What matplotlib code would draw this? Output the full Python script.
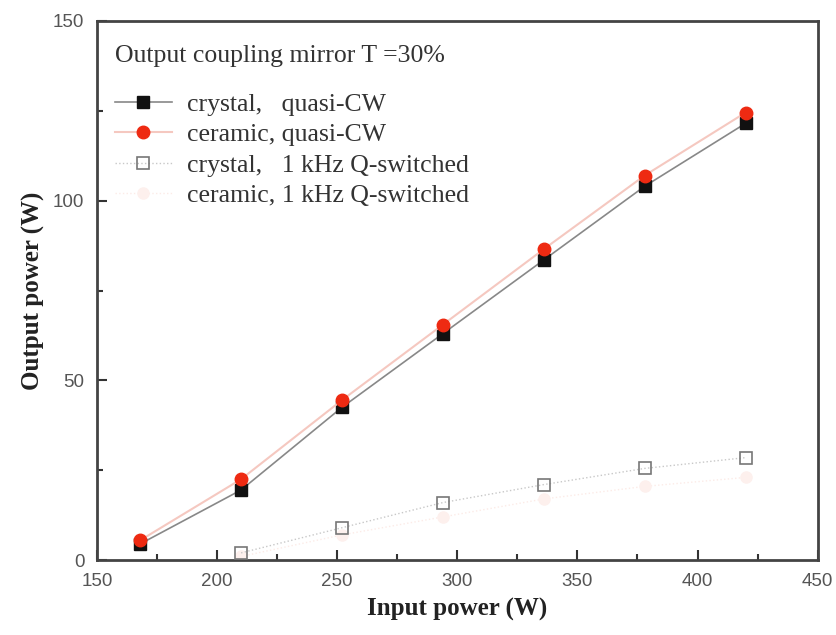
import numpy as np
import matplotlib.pyplot as plt
from matplotlib.ticker import MultipleLocator

#------------- Data --------------------------------------#
input_power = [168, 210, 252, 294, 336, 378, 420]
crystal_cw = [4.5, 19.5, 42.5, 63, 83.5, 104, 121.5]
ceramic_cw = [5.5, 22.5, 44.5, 65.5, 86.5, 107, 124.5]
crystal_qs_x = [210, 252, 294, 336, 378, 420]
crystal_qs = [2, 9, 16, 21, 25.5, 28.5]
ceramic_qs_x = [210, 252, 294, 336, 378, 420]
ceramic_qs = [1, 7, 12, 17, 20.5, 23]

serif = 'Liberation Serif'
sans = 'Liberation Sans'

#------------- Plot -----------------#
fig = plt.figure(figsize=(8.36, 6.35), dpi=100)
ax = fig.add_axes([0.116, 0.118, 0.862, 0.849])

l1, = ax.plot(input_power, crystal_cw, color='#888888', lw=1.2, marker='s', ms=8,
              mfc='#111111', mec='#111111', label='crystal,   quasi-CW', zorder=3)
l2, = ax.plot(input_power, ceramic_cw, color='#f5c8c0', lw=1.5, marker='o', ms=9,
              mfc='#ee2a12', mec='#ee2a12', label='ceramic, quasi-CW', zorder=4)
l3, = ax.plot(crystal_qs_x, crystal_qs, color='#c8c8c8', lw=1, ls=':', marker='s', ms=9,
              mfc='none', mec='#777777', mew=1.2, label='crystal,   1 kHz Q-switched', zorder=3)
l4, = ax.plot(ceramic_qs_x, ceramic_qs, color='#fcebe7', lw=1, ls=':', marker='o', ms=8,
              mfc='#fdf0ed', mec='#fdf0ed', label='ceramic, 1 kHz Q-switched', zorder=2)

ax.set_xlim(150, 450)
ax.set_ylim(0, 150)
ax.xaxis.set_major_locator(MultipleLocator(50))
ax.xaxis.set_minor_locator(MultipleLocator(25))
ax.yaxis.set_major_locator(MultipleLocator(50))
ax.yaxis.set_minor_locator(MultipleLocator(25))
ax.tick_params(which='both', direction='in', width=1.5, colors='#333333',
               labelcolor='#555555', labelsize=13.5)
ax.tick_params(which='major', length=7)
ax.tick_params(axis='x', which='major', pad=9)
ax.tick_params(axis='y', which='major', pad=9)
ax.tick_params(which='minor', length=4)
for lab in ax.get_xticklabels() + ax.get_yticklabels():
    lab.set_fontfamily(sans)
for sp in ax.spines.values():
    sp.set_linewidth(2)
    sp.set_color('#444444')

ax.set_xlabel('Input power (W)', fontfamily=serif, fontweight='bold', fontsize=18,
              color='#222222', labelpad=6)
ax.set_ylabel('Output power (W)', fontfamily=serif, fontweight='bold', fontsize=18,
              color='#222222', labelpad=6)

# legend heading drawn on its own so the gap to the entries can match
ax.text(0.025, 0.935, 'Output coupling mirror T =30%', transform=ax.transAxes,
        ha='left', va='center', fontfamily=serif, fontsize=18.5, color='#333333')

leg = ax.legend(handles=[l1, l2, l3, l4], loc='upper left', frameon=False,
                bbox_to_anchor=(0.025, 0.866), borderpad=0, borderaxespad=0,
                prop={'family': serif, 'size': 18.5}, handlelength=2.2,
                handletextpad=0.6, labelspacing=0.28)
for t in leg.get_texts():
    t.set_color('#333333')

plt.savefig('out.png', dpi=100)
